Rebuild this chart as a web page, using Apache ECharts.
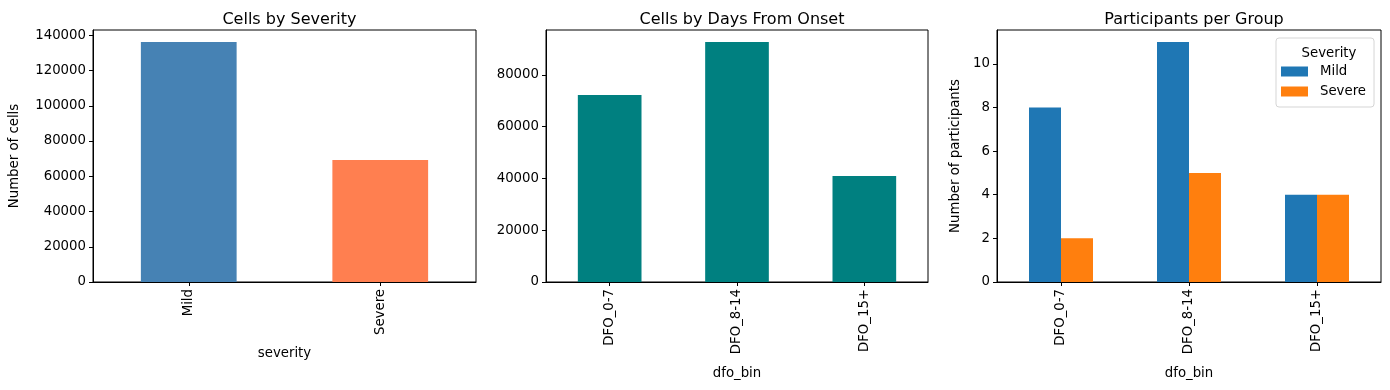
<!DOCTYPE html>
<html>
<head>
<meta charset="utf-8">
<script src="https://cdn.jsdelivr.net/npm/echarts@6/dist/echarts.min.js"></script>
<style>
html,body{margin:0;padding:0;background:#fff;}
#c{width:1390px;height:390px;}
</style>
</head>
<body>
<div id="c"></div>
<script>
const severityCats = ['Mild', 'Severe'];
const severityCells = [136200, 69300];
const dfoCats = ['DFO_0-7', 'DFO_8-14', 'DFO_15+'];
const dfoCells = [72200, 92700, 40900];
const mildParticipants = [8, 11, 4];
const severeParticipants = [2, 5, 4];
const cellTicks = [0, 20000, 40000, 60000, 80000, 100000, 120000, 140000];
const dfoTicks = [0, 20000, 40000, 60000, 80000];
const participantTicks = [0, 2, 4, 6, 8, 10];

const FONT = 'DejaVu Sans';
const chart = echarts.init(document.getElementById('c'), null, {renderer: 'canvas'});

function xAx(gridIndex, cats, name, gap) {
  return {
    type: 'category', gridIndex, data: cats,
    name, nameLocation: 'middle', nameGap: gap,
    nameTextStyle: {color: '#000', fontFamily: FONT, fontSize: 13.3},
    axisLine: {show: true, lineStyle: {color: '#000', width: 1}},
    axisTick: {show: true, alignWithLabel: true, length: 4, lineStyle: {color: '#000'}},
    axisLabel: {rotate: 90, margin: 7, color: '#000', fontFamily: FONT, fontSize: 13.3, interval: 0},
    splitLine: {show: false}
  };
}
function yAx(gridIndex, ticks, maxVal, name, gap) {
  return {
    type: 'value', gridIndex, min: 0, max: maxVal * 1.05,
    name, nameLocation: 'middle', nameGap: gap, nameRotate: 90,
    nameTextStyle: {color: '#000', fontFamily: FONT, fontSize: 13.3},
    axisLine: {show: true, lineStyle: {color: '#000', width: 1}},
    axisTick: {show: true, length: 4, lineStyle: {color: '#000'}, customValues: ticks},
    axisLabel: {margin: 7, color: '#000', fontFamily: FONT, fontSize: 13.3, customValues: ticks,
                formatter: v => String(v)},
    splitLine: {show: false}
  };
}

const option = {
  animation: false,
  backgroundColor: '#fff',
  textStyle: {fontFamily: FONT},
  title: [
    {text: 'Cells by Severity', left: 284.5, top: 7, textAlign: 'center', textStyle: {fontFamily: FONT, fontSize: 16, fontWeight: 'normal', color: '#000'}},
    {text: 'Cells by Days From Onset', left: 737, top: 7, textAlign: 'center', textStyle: {fontFamily: FONT, fontSize: 16, fontWeight: 'normal', color: '#000'}},
    {text: 'Participants per Group', left: 1189, top: 7, textAlign: 'center', textStyle: {fontFamily: FONT, fontSize: 16, fontWeight: 'normal', color: '#000'}},
    {text: 'Severity', left: 1324, top: 42, textAlign: 'center', textStyle: {fontFamily: FONT, fontSize: 13.3, fontWeight: 'normal', color: '#000'}}
  ],
  grid: [
    {left: 93, top: 30, width: 383, height: 252, show: true, borderColor: '#000', borderWidth: 1, backgroundColor: 'transparent'},
    {left: 546, top: 30, width: 382, height: 252, show: true, borderColor: '#000', borderWidth: 1, backgroundColor: 'transparent'},
    {left: 997, top: 30, width: 384, height: 252, show: true, borderColor: '#000', borderWidth: 1, backgroundColor: 'transparent'}
  ],
  xAxis: [
    xAx(0, severityCats, 'severity', 65),
    xAx(1, dfoCats, 'dfo_bin', 85),
    xAx(2, dfoCats, 'dfo_bin', 85)
  ],
  yAxis: [
    yAx(0, cellTicks, Math.max(...severityCells), 'Number of cells', 72),
    yAx(1, dfoTicks, Math.max(...dfoCells), '', 50),
    yAx(2, participantTicks, Math.max(...mildParticipants, ...severeParticipants), 'Number of participants', 35)
  ],
  legend: {
    data: ['Mild', 'Severe'],
    orient: 'vertical',
    left: 1276, top: 38,
    padding: [27, 8, 9, 5],
    itemWidth: 27, itemHeight: 10, itemGap: 7,
    borderColor: '#d5d5d5', borderWidth: 1, borderRadius: 3,
    backgroundColor: 'rgba(255,255,255,0.8)',
    icon: 'rect',
    textStyle: {fontFamily: FONT, fontSize: 13.3, color: '#000', padding: [0, 0, 0, 7]}
  },
  series: [
    {type: 'bar', xAxisIndex: 0, yAxisIndex: 0, barWidth: '50%',
     data: severityCells.map((v, i) => ({value: v, itemStyle: {color: i === 0 ? '#4682B4' : '#FF7F50'}}))},
    {type: 'bar', xAxisIndex: 1, yAxisIndex: 1, barWidth: '50%', itemStyle: {color: '#008080'}, data: dfoCells},
    {type: 'bar', name: 'Mild', xAxisIndex: 2, yAxisIndex: 2, barWidth: '25%', barGap: '0%', itemStyle: {color: '#1f77b4'}, data: mildParticipants},
    {type: 'bar', name: 'Severe', xAxisIndex: 2, yAxisIndex: 2, barWidth: '25%', barGap: '0%', itemStyle: {color: '#ff7f0e'}, data: severeParticipants}
  ]
};
chart.setOption(option);
</script>
</body>
</html>
